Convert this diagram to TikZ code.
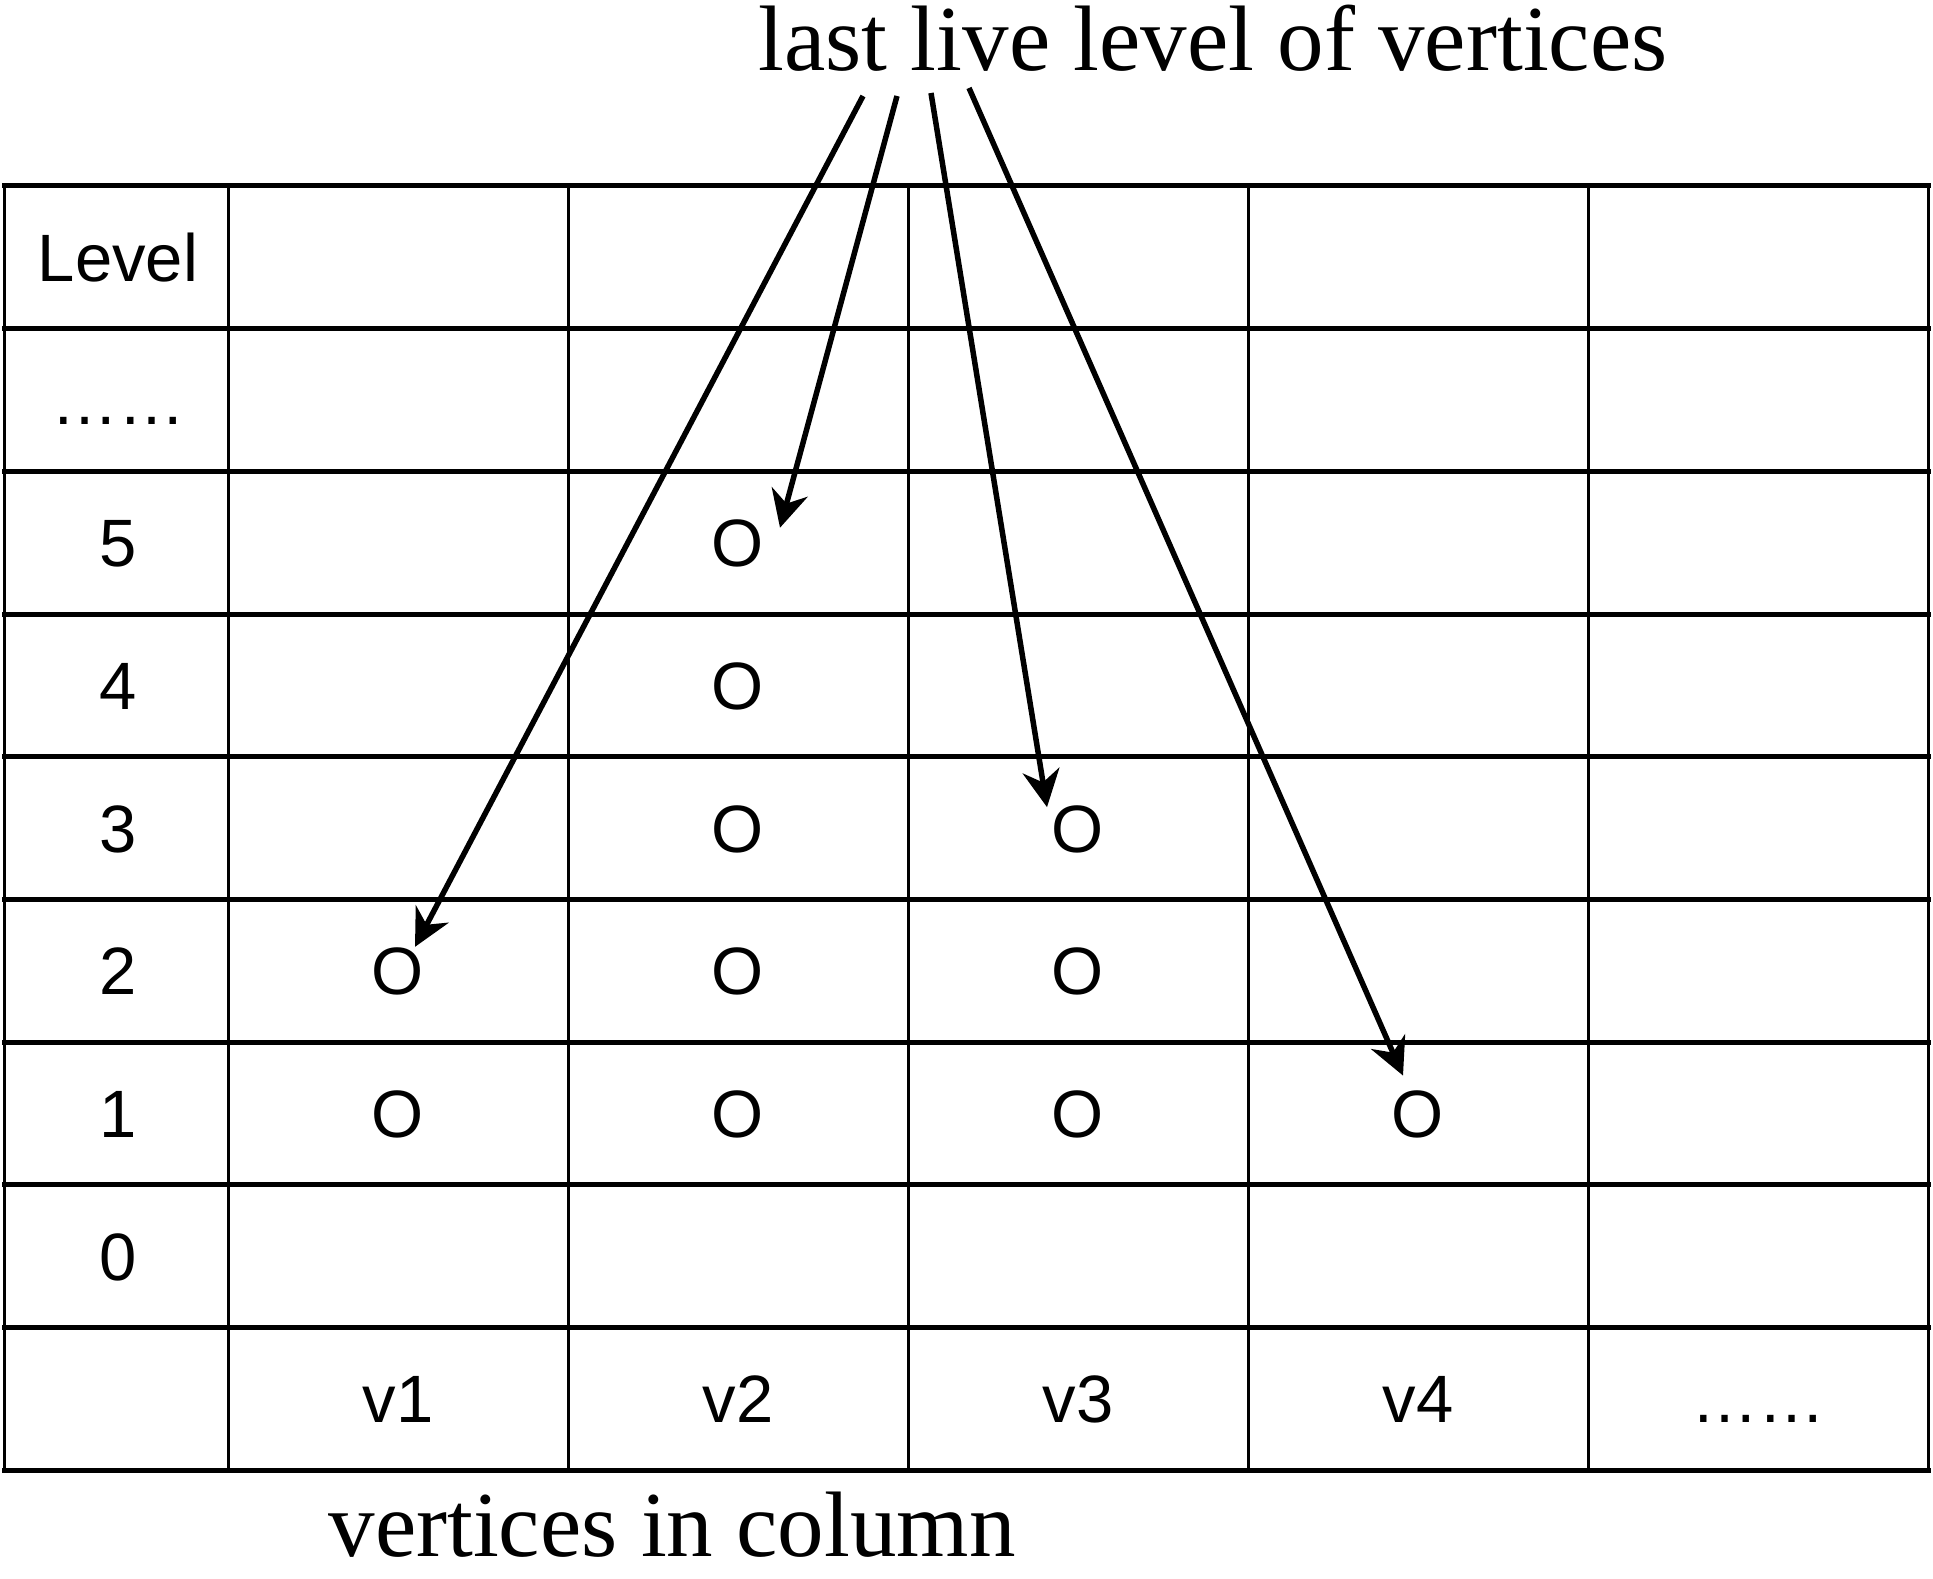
\documentclass[tikz,border=0pt]{standalone}
\usepackage{fontspec}
\setmainfont{Liberation Serif}
\setsansfont{Liberation Sans}
\usepackage{tikz}
\usetikzlibrary{arrows.meta, positioning, calc}
\tikzset{
    cellnode/.style = {draw=none, fill=none, rectangle, inner sep=0em, node distance=0em,
      text height=48pt, text depth=0pt, font=\sffamily\fontsize{67}{80}\selectfont},
    onode/.style = {cellnode, inner sep=1pt},
    textnode/.style = {draw=none, fill=none, rectangle, inner sep=0em, node distance=0em,
      font=\fontsize{93}{112}\selectfont},
    hline/.style = {line width=5pt, line cap=rect},
    vline/.style = {line width=3pt, line cap=rect},
    connect/.style = {black, line width=5.5pt, -{Stealth[length=37pt, width=37pt, inset=12pt]}}
}

\begin{document}
\begin{tikzpicture}[x=1pt, y=1pt]
    \useasboundingbox (0,0) rectangle (1933,1579);

    % grid
    \draw [hline] (4,1393) -- (1928,1393);
    \draw [hline] (4,1250.3) -- (1928,1250.3);
    \draw [hline] (4,1107.6) -- (1928,1107.6);
    \draw [hline] (4,964.9) -- (1928,964.9);
    \draw [hline] (4,822.2) -- (1928,822.2);
    \draw [hline] (4,679.5) -- (1928,679.5);
    \draw [hline] (4,536.8) -- (1928,536.8);
    \draw [hline] (4,394.1) -- (1928,394.1);
    \draw [hline] (4,251.4) -- (1928,251.4);
    \draw [hline] (4,108.7) -- (1928,108.7);
    \draw [vline] (4,108.7) -- (4,1393);
    \draw [vline] (228,108.7) -- (228,1393);
    \draw [vline] (568,108.7) -- (568,1393);
    \draw [vline] (908,108.7) -- (908,1393);
    \draw [vline] (1248,108.7) -- (1248,1393);
    \draw [vline] (1588,108.7) -- (1588,1393);
    \draw [vline] (1928,108.7) -- (1928,1393);

    % first column
    \node [name=level, cellnode] at (118,1321.65) {Level};
    \node [name=ldots, cellnode, below of = level, yshift=-142.7pt] {……};
    \node [name=l5, cellnode, below of = level, yshift=-285.4pt] {5};
    \node [name=l4, cellnode, below of = level, yshift=-428.1pt] {4};
    \node [name=l3, cellnode, below of = level, yshift=-570.8pt] {3};
    \node [name=l2, cellnode, below of = level, yshift=-713.5pt] {2};
    \node [name=l1, cellnode, below of = level, yshift=-856.2pt] {1};
    \node [name=l0, cellnode, below of = level, yshift=-998.9pt] {0};

    % last row
    \node [name=v1, cellnode, right of = l0, xshift=280pt, yshift=-142.7pt] {v1};
    \node [name=v2, cellnode, right of = l0, xshift=620pt, yshift=-142.7pt] {v2};
    \node [name=v3, cellnode, right of = l0, xshift=960pt, yshift=-142.7pt] {v3};
    \node [name=v4, cellnode, right of = l0, xshift=1300pt, yshift=-142.7pt] {v4};
    \node [name=vdots, cellnode, right of = l0, xshift=1640pt, yshift=-142.7pt] {……};

    % live vertices
    \node [name=o12, onode, right of = l2, xshift=280pt] {O};
    \node [name=o11, onode, right of = l1, xshift=280pt] {O};
    \node [name=o25, onode, right of = l5, xshift=620pt] {O};
    \node [name=o24, onode, right of = l4, xshift=620pt] {O};
    \node [name=o23, onode, right of = l3, xshift=620pt] {O};
    \node [name=o22, onode, right of = l2, xshift=620pt] {O};
    \node [name=o21, onode, right of = l1, xshift=620pt] {O};
    \node [name=o33, onode, right of = l3, xshift=960pt] {O};
    \node [name=o32, onode, right of = l2, xshift=960pt] {O};
    \node [name=o31, onode, right of = l1, xshift=960pt] {O};
    \node [name=o41, onode, right of = l1, xshift=1300pt] {O};

    % labels
    \node [name=title, textnode, anchor=base] at (1213,1508) {last live level of vertices};
    \node [name=column, textnode, anchor=base] at (672,22) {vertices in column};

    \coordinate (s1) at ([xshift=-350pt, yshift=-25pt]title.base);
    \coordinate (s2) at ([xshift=-316pt, yshift=-25pt]title.base);
    \coordinate (s3) at ([xshift=-282pt, yshift=-22pt]title.base);
    \coordinate (s4) at ([xshift=-244pt, yshift=-17pt]title.base);
    \coordinate (t1) at ([xshift=17pt, yshift=24pt]o12.center);
    \coordinate (t2) at ([xshift=42pt, yshift=15pt]o25.center);
    \coordinate (t3) at ([xshift=-31pt, yshift=21pt]o33.center);
    \coordinate (t4) at ([xshift=-15pt, yshift=38pt]o41.center);

    \draw (s1) edge[connect] (t1);
    \draw (s2) edge[connect] (t2);
    \draw (s3) edge[connect] (t3);
    \draw (s4) edge[connect] (t4);
\end{tikzpicture}
\end{document}
